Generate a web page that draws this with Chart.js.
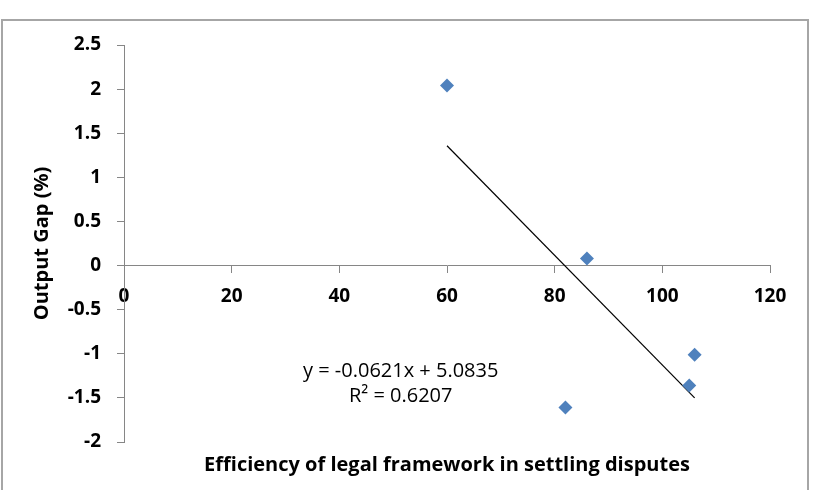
<!DOCTYPE html>
<html>
<head>
<meta charset="utf-8">
<script src="https://cdn.jsdelivr.net/npm/chart.js@4/dist/chart.umd.min.js"></script>
<style>
    html, body { margin: 0; padding: 0; background: #fff; }
    #wrap { position: relative; width: 819px; height: 490px; overflow: hidden; }
    #frame { position: absolute; left: 1px; top: 19px; width: 808px; height: 500px; border: 2px solid #a6a6a6; box-sizing: border-box; }
    canvas { position: absolute; left: 0; top: 0; }
</style>
</head>
<body>
<div id="wrap">
    <div id="frame"></div>
    <canvas id="chart" width="819" height="490"></canvas>
</div>
<script>
// ================================
// Data
// ================================

const efficiency = [60, 86, 106, 105, 82];
const outputGap = [2.04, 0.08, -1.01, -1.36, -1.61];

// trend line as printed on the chart
const trendSlope = -0.0621;
const trendIntercept = 5.0835;
const trendLabel = ["y = -0.0621x + 5.0835", "R\u00B2 = 0.6207"];

const xTitle = "Efficiency of legal framework in settling disputes";
const yTitle = "Output Gap (%)";

// ================================
// Build datasets
// ================================

const points = efficiency.map((x, i) => ({ x: x, y: outputGap[i] }));

const xMin = Math.min(...efficiency);
const xMax = Math.max(...efficiency);
const trendPoints = [xMin, xMax].map(x => ({ x: x, y: trendSlope * x + trendIntercept }));

const FONT = "'Open Sans'";

// ================================
// Text plugin (x title + equation)
// ================================

const textPlugin = {
    id: "textPlugin",
    afterDraw(chart) {
        const ctx = chart.ctx;
        const area = chart.chartArea;
        const sx = chart.scales.x;
        const sy = chart.scales.y;

        ctx.save();
        ctx.fillStyle = "#000";
        ctx.textAlign = "center";
        ctx.textBaseline = "middle";

        ctx.font = "bold 20px " + FONT;
        ctx.fillText(xTitle, (area.left + area.right) / 2, 465);

        ctx.font = "20px " + FONT;
        const cx = sx.getPixelForValue(51.4);
        ctx.fillText(trendLabel[0], cx, sy.getPixelForValue(-1.2));
        ctx.fillText(trendLabel[1], cx, sy.getPixelForValue(-1.485));
        ctx.restore();
    }
};

// ================================
// Chart
// ================================

new Chart(document.getElementById("chart"), {
    type: "scatter",
    data: {
        datasets: [
            {
                label: "Output Gap",
                data: points,
                pointStyle: "rectRot",
                pointRadius: 7,
                pointHoverRadius: 7,
                backgroundColor: "#4f81bd",
                borderColor: "#4f81bd",
                borderWidth: 0
            },
            {
                type: "line",
                label: "Linear trend",
                data: trendPoints,
                borderColor: "#000",
                borderWidth: 1.2,
                pointRadius: 0,
                fill: false
            }
        ]
    },
    options: {
        responsive: false,
        animation: false,
        layout: { padding: { top: 45, right: 49, bottom: 48, left: 0 } },
        plugins: {
            legend: { display: false },
            tooltip: { enabled: false }
        },
        scales: {
            x: {
                type: "linear",
                position: { y: 0 },
                min: 0,
                max: 120,
                ticks: {
                    stepSize: 20,
                    color: "#000",
                    padding: 13,
                    font: { family: FONT, weight: "bold", size: 19 }
                },
                grid: { drawOnChartArea: false, tickLength: 7, color: "#868686" },
                border: { color: "#868686", width: 1 }
            },
            y: {
                type: "linear",
                min: -2,
                max: 2.5,
                afterFit(scale) { scale.width = 124; },
                ticks: {
                    stepSize: 0.5,
                    color: "#000",
                    padding: 16,
                    callback: value => String(value),
                    font: { family: FONT, weight: "bold", size: 19 }
                },
                title: {
                    display: true,
                    text: yTitle,
                    color: "#000",
                    padding: { top: 30, bottom: 0 },
                    font: { family: FONT, weight: "bold", size: 20 }
                },
                grid: { drawOnChartArea: false, tickLength: 7, color: "#868686" },
                border: { color: "#868686", width: 1 }
            }
        }
    },
    plugins: [textPlugin]
});
</script>
</body>
</html>
